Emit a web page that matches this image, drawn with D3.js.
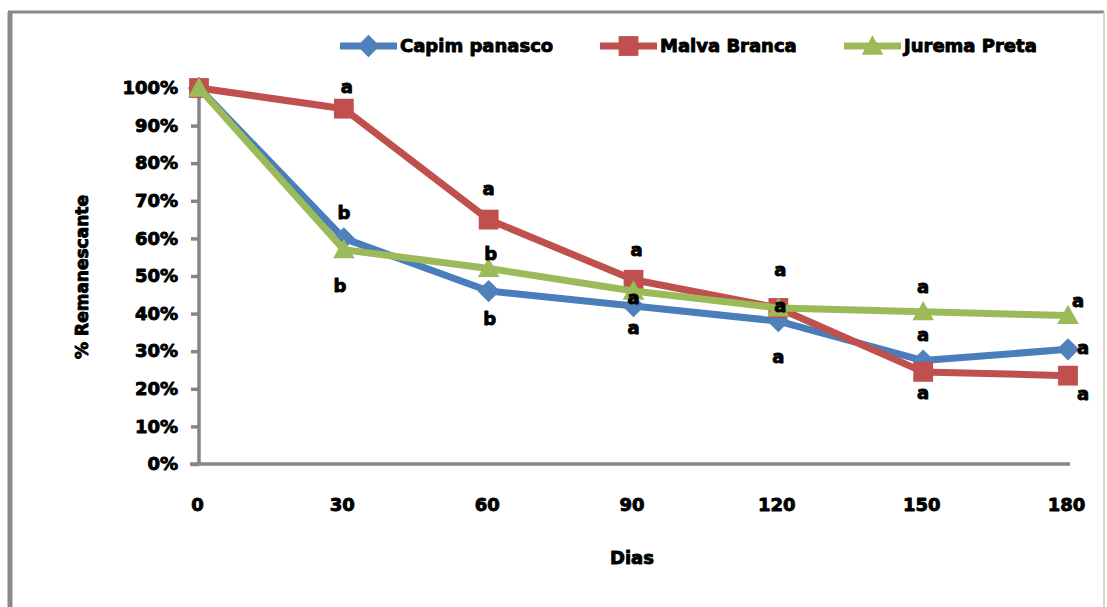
<!DOCTYPE html>
<html>
<head>
<meta charset="utf-8">
<script src="https://cdn.jsdelivr.net/npm/d3@7"></script>
<style>
  html, body { margin: 0; padding: 0; background: #fff; }
  svg { display: block; }
  text { font-family: "DejaVu Sans", "Liberation Sans", sans-serif; font-weight: bold; fill: #000;
         stroke: #000; stroke-width: 0.9px; stroke-linejoin: round; }
</style>
</head>
<body>
<svg id="chart" width="1107" height="607"></svg>
<script>
// Dias de incubação (categorias do eixo x)
const days = ["0", "30", "60", "90", "120", "150", "180"];

// % de material remanescente por espécie
const capimPanasco = [100, 60, 46, 42, 38, 27.5, 30.5];
const malvaBranca  = [100, 94.5, 65, 49, 41.5, 24.5, 23.5];
const juremaPreta  = [100, 57, 52, 46, 41.5, 40.5, 39.5];

// Letras de comparação entre espécies em cada data
const capimLetters  = ["", "b", "b", "a", "a", "a", "a"];
const malvaLetters  = ["", "a", "a", "a", "a", "a", "a"];
const juremaLetters = ["", "b", "b", "a", "a", "a", "a"];

// Marcas do eixo y
const yTicks = [0, 10, 20, 30, 40, 50, 60, 70, 80, 90, 100];

const seriesNames = ["Capim panasco", "Malva Branca", "Jurema Preta"];

// Posição de cada letra em relação ao marcador (px)
const letterOffsets = {
  "Capim panasco": [[0,0],[0,-26],[1,28],[0,22],[0,36],[0,-26],[15,-2]],
  "Malva Branca":  [[0,0],[3,-22],[0,-31],[3,-30],[2,-38],[0,21],[15,18]],
  "Jurema Preta":  [[0,0],[-4,36],[2,-15],[0,7],[2,-2],[0,-25],[10,-15]]
};

const series = [
  { name: seriesNames[0], values: capimPanasco, letters: capimLetters,  line: "#4A7EBB", fill: "#4F81BD", marker: "diamond" },
  { name: seriesNames[1], values: malvaBranca,  letters: malvaLetters,  line: "#C0504D", fill: "#C0504D", marker: "square" },
  { name: seriesNames[2], values: juremaPreta,  letters: juremaLetters, line: "#9BBB59", fill: "#9BBB59", marker: "triangle" }
];

const svg = d3.select("#chart");

// Moldura da área do gráfico
svg.append("line").attr("x1", 10).attr("y1", 12).attr("x2", 10).attr("y2", 607)
  .attr("stroke", "#898989").attr("stroke-width", 5);
svg.append("line").attr("x1", 8).attr("y1", 12).attr("x2", 1104).attr("y2", 12)
  .attr("stroke", "#898989").attr("stroke-width", 3);
svg.append("line").attr("x1", 1104).attr("y1", 12).attr("x2", 1104).attr("y2", 607)
  .attr("stroke", "#c8c8c8").attr("stroke-width", 1.5);

const x = d3.scalePoint().domain(days).range([199, 1068]).padding(0);
const y = d3.scaleLinear().domain([0, 100]).range([464, 88]);

// Eixo y
const yAxis = d3.axisLeft(y).tickValues(yTicks).tickSize(8).tickPadding(13)
  .tickFormat(d => d + "%");
const gy = svg.append("g").attr("transform", "translate(199,0)").call(yAxis);
gy.select(".domain").attr("stroke", "#868686").attr("stroke-width", 3.5)
  .attr("d", `M0,${y(100)}V${y(0)}`);
gy.selectAll(".tick line").attr("stroke", "#868686").attr("stroke-width", 3.5);
gy.selectAll(".tick text").attr("font-size", 18).attr("fill", "#000")
  .attr("font-family", "DejaVu Sans").attr("font-weight", "bold");

// Eixo x
const xAxis = d3.axisBottom(x).tickSize(0).tickPadding(34);
const gx = svg.append("g").attr("transform", "translate(0,464)").call(xAxis);
gx.select(".domain").attr("stroke", "#868686").attr("stroke-width", 3.5)
  .attr("d", `M${x(days[0]) - 9},0H${x(days[days.length - 1]) + 2}`);
gx.selectAll(".tick text").attr("font-size", 18).attr("fill", "#000")
  .attr("font-family", "DejaVu Sans").attr("font-weight", "bold")
  .attr("dx", -2);

// Títulos dos eixos
svg.append("text").attr("x", 632).attr("y", 564).attr("text-anchor", "middle")
  .attr("font-size", 18).text("Dias");
svg.append("text").attr("transform", "translate(88,277) rotate(-90)")
  .attr("text-anchor", "middle").attr("font-size", 17).text("% Remanescante");

// Marcadores
function drawMarker(g, type, cx, cy, fill, size) {
  if (type === "diamond") {
    const r = size * 0.62;
    g.append("path").attr("d", `M${cx},${cy - r}L${cx + r},${cy}L${cx},${cy + r}L${cx - r},${cy}Z`)
      .attr("fill", fill);
  } else if (type === "square") {
    const h = size * 0.55;
    g.append("rect").attr("x", cx - h).attr("y", cy - h).attr("width", 2 * h).attr("height", 2 * h)
      .attr("fill", fill);
  } else {
    const h = size * 0.6;
    g.append("path").attr("d", `M${cx},${cy - h}L${cx + h},${cy + h * 0.8}L${cx - h},${cy + h * 0.8}Z`)
      .attr("fill", fill);
  }
}

const line = d3.line().x((d, i) => x(days[i])).y(d => y(d));

series.forEach(s => {
  const g = svg.append("g");
  g.append("path").datum(s.values).attr("d", line)
    .attr("fill", "none").attr("stroke", s.line).attr("stroke-width", 7)
    .attr("stroke-linejoin", "round");
  s.values.forEach((v, i) => drawMarker(g, s.marker, x(days[i]), y(v), s.fill, 18));
});

// Letras de significância
series.forEach(s => {
  const offs = letterOffsets[s.name];
  s.values.forEach((v, i) => {
    if (!s.letters[i]) return;
    svg.append("text")
      .attr("x", x(days[i]) + offs[i][0])
      .attr("y", y(v) + offs[i][1])
      .attr("dy", "0.35em")
      .attr("text-anchor", "middle")
      .attr("font-size", 18)
      .text(s.letters[i]);
  });
});

// Legenda
const legendPos = [340, 600, 844];
series.forEach((s, i) => {
  const g = svg.append("g").attr("transform", `translate(${legendPos[i]},46)`);
  g.append("line").attr("x1", 0).attr("x2", 57).attr("y1", 0).attr("y2", 0)
    .attr("stroke", s.line).attr("stroke-width", 7);
  drawMarker(g, s.marker, 28.5, 0, s.fill, 18);
  g.append("text").attr("x", 60).attr("y", 0).attr("dy", "0.35em")
    .attr("font-size", 18).text(s.name);
});
</script>
</body>
</html>
